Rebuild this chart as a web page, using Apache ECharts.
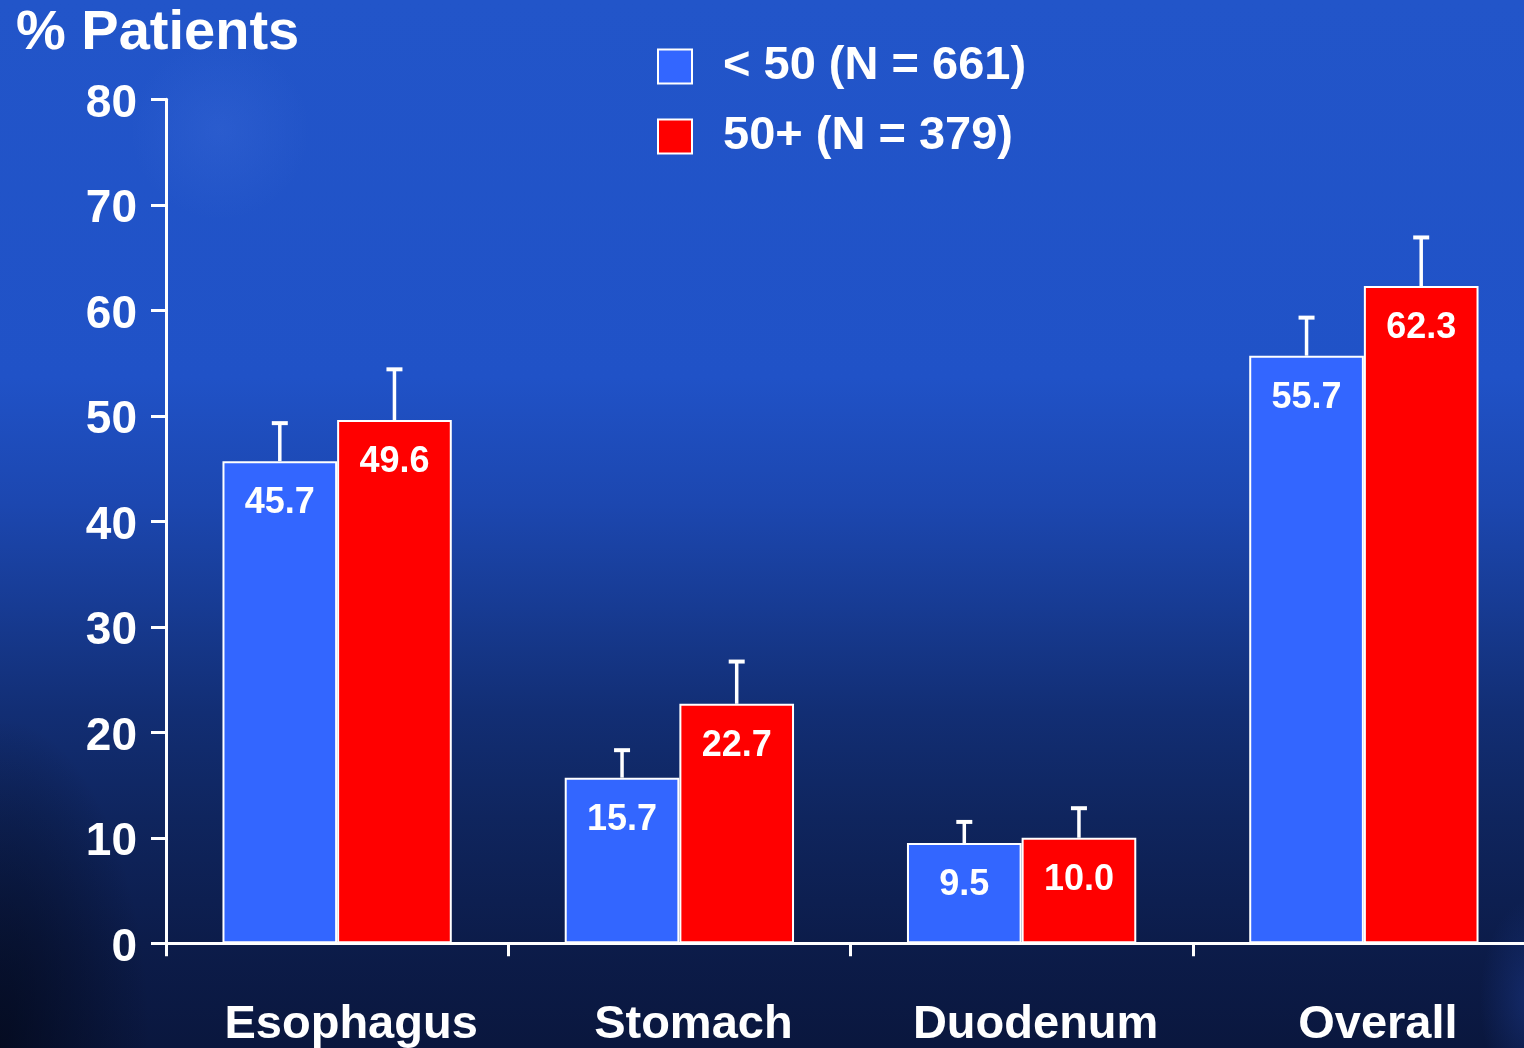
<!DOCTYPE html>
<html>
<head>
<meta charset="utf-8">
<script src="https://cdn.jsdelivr.net/npm/echarts@6/dist/echarts.min.js"></script>
<style>
html, body { margin: 0; padding: 0; }
body {
  width: 1524px; height: 1048px; overflow: hidden;
  background:
    radial-gradient(ellipse 150px 330px at 0px 1048px, rgba(3,8,24,0.75), rgba(3,8,24,0) 100%),
    radial-gradient(ellipse 50px 100px at 1530px 1000px, rgba(40,80,190,0.3), rgba(40,80,190,0) 100%),
    radial-gradient(ellipse 90px 90px at 220px 130px, rgba(120,160,255,0.10), rgba(120,160,255,0) 100%),
    linear-gradient(to bottom, #2255c9 0%, #2052c7 36%, #1c47b0 48%, #173b93 58%, #122e74 68%, #0f255e 78%, #0c1c4a 90%, #0a173e 100%);
}
#chart { width: 1524px; height: 1048px; }
</style>
</head>
<body>
<div id="chart"></div>
<script>
// ---- data ----
const categories = ['Esophagus', 'Stomach', 'Duodenum', 'Overall'];
const seriesNames = ['< 50 (N = 661)', '50+ (N = 379)'];
const under50 = [45.7, 15.7, 9.5, 55.7];
const over50 = [49.6, 22.7, 10.0, 62.3];
const under50Upper = [49.4, 18.4, 11.6, 59.4];
const over50Upper = [54.5, 26.8, 12.9, 67.0];
const yMin = 0, yMax = 80, yInterval = 10;

// ---- chart ----
const FONT = '"Liberation Sans", Arial, sans-serif';
const CAT_GAP = 0.33;
const chart = echarts.init(document.getElementById('chart'), null, { renderer: 'canvas' });

function errData(vals, uppers) {
  return vals.map((v, i) => [i, v, uppers[i]]);
}
function errRender(sign) {
  return function (params, api) {
    const idx = api.value(0);
    const base = api.coord([idx, api.value(1)]);
    const top = api.coord([idx, api.value(2)]);
    const band = api.size([1, 0])[0];
    const off = sign * band * (1 - CAT_GAP) / 4;
    const x = base[0] + off;
    return {
      type: 'group',
      children: [
        { type: 'line', shape: { x1: x, y1: base[1], x2: x, y2: top[1] }, style: { stroke: '#ffffff', lineWidth: 3.5 } },
        { type: 'line', shape: { x1: x - 8, y1: top[1] + 1, x2: x + 8, y2: top[1] + 1 }, style: { stroke: '#ffffff', lineWidth: 4 } }
      ]
    };
  };
}

const barLabel = {
  show: true,
  position: 'insideTop',
  distance: 24,
  color: '#ffffff',
  fontFamily: FONT,
  fontWeight: 'bold',
  fontSize: 36,
  formatter: p => Number(p.value).toFixed(1)
};

chart.setOption({
  backgroundColor: 'transparent',
  animation: false,
  title: {
    text: '% Patients',
    left: 11, top: 1, padding: 5,
    textStyle: { color: '#ffffff', fontFamily: FONT, fontWeight: 'bold', fontSize: 56 }
  },
  legend: {
    orient: 'vertical',
    left: 657, top: 43, padding: 0,
    icon: 'rect',
    itemWidth: 34, itemHeight: 34,
    itemGap: 23,
    data: seriesNames,
    textStyle: { color: '#ffffff', fontFamily: FONT, fontWeight: 'bold', fontSize: 47, padding: [0, 0, 0, 26] }
  },
  grid: { left: 166, right: -11, top: 99.3, bottom: 104.7, containLabel: false, outerBoundsMode: 'none' },
  xAxis: {
    type: 'category',
    data: categories,
    axisLine: { lineStyle: { color: '#ffffff', width: 3 } },
    axisTick: { show: true, length: 13, lineStyle: { color: '#ffffff', width: 3 } },
    axisLabel: { color: '#ffffff', fontFamily: FONT, fontWeight: 'bold', fontSize: 47, margin: 58, padding: [0, 0, 0, 28] },
    splitLine: { show: false }
  },
  yAxis: {
    type: 'value',
    min: yMin, max: yMax, interval: yInterval,
    axisLine: { show: true, lineStyle: { color: '#ffffff', width: 3 } },
    axisTick: { show: true, length: 15, lineStyle: { color: '#ffffff', width: 3 } },
    axisLabel: {
      color: '#ffffff', fontFamily: FONT, fontWeight: 'bold', fontSize: 46, margin: 29,
      formatter: '{v|{value}}',
      rich: { v: { color: '#ffffff', fontFamily: FONT, fontWeight: 'bold', fontSize: 46, padding: [10, 0, 0, 0] } }
    },
    splitLine: { show: false }
  },
  series: [
    {
      name: seriesNames[0], type: 'bar', data: under50,
      barGap: '0%', barCategoryGap: (CAT_GAP * 100) + '%',
      itemStyle: { color: '#3366ff', borderColor: '#ffffff', borderWidth: 2 },
      label: barLabel
    },
    {
      name: seriesNames[1], type: 'bar', data: over50,
      barGap: '0%', barCategoryGap: (CAT_GAP * 100) + '%',
      itemStyle: { color: '#ff0000', borderColor: '#ffffff', borderWidth: 2 },
      label: barLabel
    },
    {
      type: 'custom', name: 'err1', data: errData(under50, under50Upper),
      encode: { x: 0, y: [1, 2] }, renderItem: errRender(-1), z: 3, silent: true
    },
    {
      type: 'custom', name: 'err2', data: errData(over50, over50Upper),
      encode: { x: 0, y: [1, 2] }, renderItem: errRender(1), z: 3, silent: true
    }
  ]
});
</script>
</body>
</html>
